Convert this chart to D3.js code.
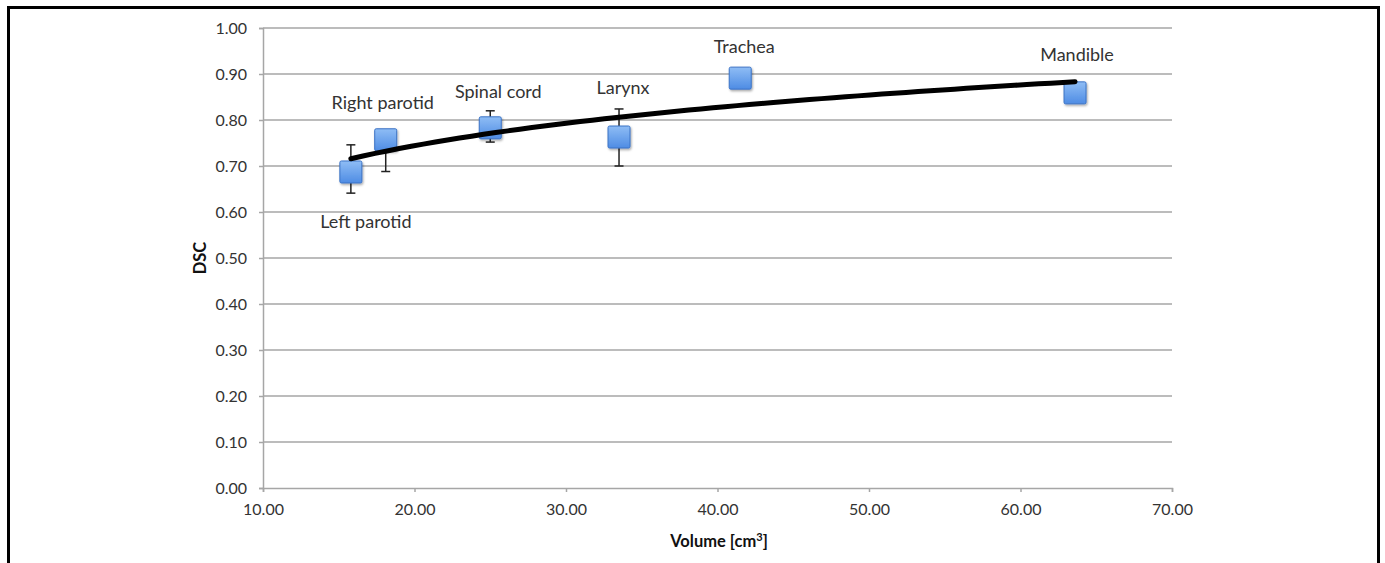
<!DOCTYPE html>
<meta charset="utf-8">
<title>DSC vs volume</title>
<style>
body { margin: 0; background: #fff; }
svg { font-family: Lato, "Open Sans", "Liberation Sans", sans-serif; }
.grid line { stroke: #a6a6a6; stroke-width: 1.5px; }
.axis path, .axis line { stroke: #a6a6a6; stroke-width: 1.5px; }
.axis text { fill: #333; font-size: 16px; font-family: Lato, sans-serif; }
.label { fill: #333; font-size: 18px; }
.title { fill: #111; font-size: 16.5px; font-weight: bold; }
</style>
<body>
<script src="https://cdn.jsdelivr.net/npm/d3@7"></script>
<script>

var organs  = ["Left parotid", "Right parotid", "Spinal cord", "Larynx", "Trachea", "Mandible"];
var volume  = [15.8, 18.1, 25.0, 33.5, 41.5, 63.6];
var dsc     = [0.687, 0.757, 0.783, 0.763, 0.891, 0.859];
var errUp   = [0.746, 0.757, 0.820, 0.824, 0.891, 0.859];
var errDown = [0.641, 0.688, 0.752, 0.700, 0.891, 0.859];
// label offsets in px relative to the marker
var labelDx = [15, -3, 8, 4, 4, 2];
var labelDy = [56, -31, -30, -43, -25, -32];

var W = 1385, H = 563;
var margin = {top: 28, right: 213, bottom: 75, left: 263},
    width = 1172 - 263,
    height = 488 - 28;

var x = d3.scaleLinear().domain([10, 70]).range([0, width]);
var y = d3.scaleLinear().domain([0, 1]).range([height, 0]);

var root = d3.select("body").append("svg")
    .attr("width", W)
    .attr("height", H);

// frame
root.append("path")
    .attr("d", "M8.5," + H + "V7.5H1378.5V" + H)
    .attr("fill", "none")
    .attr("stroke", "#000")
    .attr("stroke-width", 3);

var defs = root.append("defs");
var grad = defs.append("linearGradient")
    .attr("id", "mk").attr("x1", 0).attr("y1", 0).attr("x2", 0).attr("y2", 1);
grad.append("stop").attr("offset", "0%").attr("stop-color", "#8fbdf5");
grad.append("stop").attr("offset", "100%").attr("stop-color", "#4e8ce4");
var sh = defs.append("filter").attr("id", "sh").attr("x", "-30%").attr("y", "-30%").attr("width", "160%").attr("height", "160%");
sh.append("feDropShadow").attr("dx", 1).attr("dy", 1.5).attr("stdDeviation", 1.2)
    .attr("flood-color", "#000").attr("flood-opacity", 0.35);

var svg = root.append("g")
    .attr("transform", "translate(" + margin.left + "," + margin.top + ")");

svg.append("g")
    .attr("class", "grid")
  .selectAll("line")
    .data(y.ticks(10).filter(function(d) { return d > 0; }))
  .enter().append("line")
    .attr("x1", 0).attr("x2", width)
    .attr("y1", function(d) { return y(d); })
    .attr("y2", function(d) { return y(d); });

svg.append("g")
    .attr("class", "axis")
    .call(d3.axisLeft(y).ticks(10).tickFormat(d3.format(".2f")).tickSizeOuter(0).tickSize(4).tickPadding(12));

svg.append("g")
    .attr("class", "axis")
    .attr("transform", "translate(0," + height + ")")
    .call(d3.axisBottom(x).ticks(6).tickFormat(d3.format(".2f")).tickSizeOuter(0).tickSize(4).tickPadding(12));

var pts = organs.map(function(o, i) {
  return {name: o, v: volume[i], d: dsc[i], hi: errUp[i], lo: errDown[i], dx: labelDx[i], dy: labelDy[i]};
});

// error bars
var eb = svg.append("g").attr("stroke", "#222").attr("stroke-width", 1.5).attr("fill", "none");
pts.filter(function(p) { return p.hi !== p.lo; }).forEach(function(p) {
  var cx = x(p.v);
  eb.append("line").attr("x1", cx).attr("x2", cx).attr("y1", y(p.hi)).attr("y2", y(p.lo));
  eb.append("line").attr("x1", cx - 4.5).attr("x2", cx + 4.5).attr("y1", y(p.hi)).attr("y2", y(p.hi));
  eb.append("line").attr("x1", cx - 4.5).attr("x2", cx + 4.5).attr("y1", y(p.lo)).attr("y2", y(p.lo));
});

// markers
var s = 22;
svg.append("g")
  .selectAll("rect")
    .data(pts)
  .enter().append("rect")
    .attr("x", function(p) { return x(p.v) - s / 2; })
    .attr("y", function(p) { return y(p.d) - s / 2; })
    .attr("width", s).attr("height", s)
    .attr("rx", 1.5)
    .attr("fill", "url(#mk)")
    .attr("stroke", "#3b73c6")
    .attr("stroke-width", 1)
    .attr("filter", "url(#sh)");

// logarithmic trend line fitted to the points
var lx = pts.map(function(p) { return Math.log(p.v); });
var mx = d3.mean(lx), my = d3.mean(dsc);
var a = d3.sum(lx, function(l, i) { return (l - mx) * (dsc[i] - my); }) /
        d3.sum(lx, function(l) { return (l - mx) * (l - mx); });
var b = my - a * mx;
var vmin = d3.min(volume), vmax = d3.max(volume);
var xs = d3.range(0, 61).map(function(i) { return vmin + (vmax - vmin) * i / 60; });
svg.append("path")
    .datum(xs)
    .attr("fill", "none")
    .attr("stroke", "#000")
    .attr("stroke-width", 5)
    .attr("stroke-linecap", "round")
    .attr("d", d3.line()
      .x(function(v) { return x(v); })
      .y(function(v) { return y(a * Math.log(v) + b); }));

// data labels
svg.append("g")
  .selectAll("text")
    .data(pts)
  .enter().append("text")
    .attr("class", "label")
    .attr("text-anchor", "middle")
    .attr("x", function(p) { return x(p.v) + p.dx; })
    .attr("y", function(p) { return y(p.d) + p.dy; })
    .text(function(p) { return p.name; });

// axis titles
var xt = svg.append("text")
    .attr("class", "title")
    .attr("text-anchor", "middle")
    .attr("x", 719 - margin.left)
    .attr("y", 547 - margin.top);
xt.append("tspan").text("Volume [cm");
xt.append("tspan").attr("font-size", "11px").attr("dy", -6).text("3");
xt.append("tspan").attr("dy", 6).text("]");

svg.append("text")
    .attr("class", "title")
    .attr("text-anchor", "middle")
    .attr("transform", "translate(" + (206 - margin.left) + "," + (258 - margin.top) + ") rotate(-90)")
    .text("DSC");

</script>
</body>
